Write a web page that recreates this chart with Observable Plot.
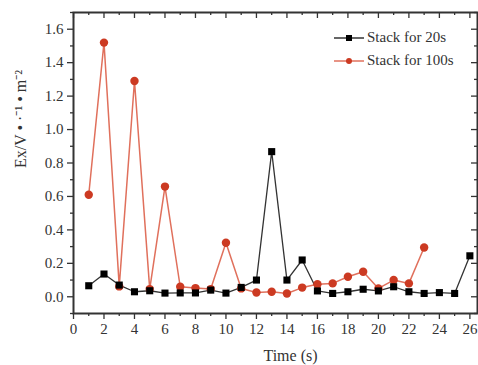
<!DOCTYPE html>
<html>
<head>
<meta charset="utf-8">
<script src="https://cdn.jsdelivr.net/npm/d3@7"></script>
<script src="https://cdn.jsdelivr.net/npm/@observablehq/plot@0.6"></script>
<style>
  html, body { margin: 0; padding: 0; background: #fff; }
  #wrap { position: relative; width: 478px; height: 365px; overflow: hidden; }
  #legend { position: absolute; left: 334px; top: 26px; font-family: "Liberation Serif", serif; font-size: 15px; color: #333; }
  #legend .row { display: flex; align-items: center; height: 23px; }
  #legend svg { margin-right: 2px; }
</style>
</head>
<body>
<div id="wrap"><div id="legend"></div></div>
<script>
const time20 = d3.range(1, 27);
const vals20 = [0.066, 0.136, 0.07, 0.03, 0.036, 0.022, 0.023, 0.023, 0.04, 0.022, 0.056, 0.10, 0.868, 0.10, 0.22, 0.035, 0.02, 0.03, 0.045, 0.035, 0.06, 0.03, 0.02, 0.025, 0.02, 0.245];
const time100 = d3.range(1, 24);
const vals100 = [0.61, 1.52, 0.062, 1.29, 0.046, 0.659, 0.06, 0.052, 0.046, 0.323, 0.05, 0.026, 0.03, 0.02, 0.055, 0.075, 0.08, 0.12, 0.15, 0.05, 0.10, 0.08, 0.295];
const seriesNames = ["Stack for 20s", "Stack for 100s"];
const xMajor = d3.range(0, 27, 2);
const xMinor = d3.range(1, 27, 2);
const yMajor = [0, 0.2, 0.4, 0.6, 0.8, 1.0, 1.2, 1.4, 1.6];
const yMinor = [-0.1, 0.1, 0.3, 0.5, 0.7, 0.9, 1.1, 1.3, 1.5, 1.7];
const xLabel = "Time (s)";
const yLabel = "Ex/V • ·⁻¹ • m⁻²";

const d20 = time20.map((t, i) => ({t, v: vals20[i]}));
const d100 = time100.map((t, i) => ({t, v: vals100[i]}));

const black = "#000";
const blackLine = "#333";
const red = "#cc3a22";
const redLine = "#e0705c";
const axisColor = "#333";
const font = "Liberation Serif";

const W = 478, H = 365, mL = 73, mT = 12, mR = 1, mB = 52;
const fw = W - mL - mR, fh = H - mT - mB;

const chart = Plot.plot({
  width: W,
  height: H,
  marginLeft: mL,
  marginTop: mT,
  marginRight: mR,
  marginBottom: mB,
  style: {fontFamily: font, fontSize: "15px", color: "#333", background: "#fff"},
  x: {domain: [0, 26.5]},
  y: {domain: [-0.1, 1.7]},
  marks: [
    Plot.axisX({ticks: xMajor, tickSize: 6, tickPadding: 4, tickFormat: d => d, label: null, stroke: axisColor, strokeWidth: 1.3, fontSize: 15}),
    Plot.axisX({ticks: xMinor, tickSize: 3, tickFormat: () => "", label: null, stroke: axisColor, strokeWidth: 1.3}),
    Plot.tickX(xMajor, {x: d => d, insetBottom: fh - 6, stroke: axisColor, strokeWidth: 1.3}),
    Plot.tickX(xMinor, {x: d => d, insetBottom: fh - 3, stroke: axisColor, strokeWidth: 1.3}),
    Plot.axisY({ticks: yMajor, tickSize: 6, tickPadding: 4, tickFormat: d3.format(".1f"), label: null, stroke: axisColor, strokeWidth: 1.3, fontSize: 15}),
    Plot.axisY({ticks: yMinor, tickSize: 3, tickFormat: () => "", label: null, stroke: axisColor, strokeWidth: 1.3}),
    Plot.tickY(yMajor, {y: d => d, insetLeft: fw - 6, stroke: axisColor, strokeWidth: 1.3}),
    Plot.tickY(yMinor, {y: d => d, insetLeft: fw - 3, stroke: axisColor, strokeWidth: 1.3}),
    Plot.frame({stroke: axisColor, strokeWidth: 2}),
    Plot.line(d100, {x: "t", y: "v", stroke: redLine, strokeWidth: 1.5}),
    Plot.line(d20, {x: "t", y: "v", stroke: blackLine, strokeWidth: 1.3}),
    Plot.dot(d100, {x: "t", y: "v", fill: red, r: 4.2, symbol: "circle"}),
    Plot.dot(d20, {x: "t", y: "v", fill: black, r: 4, symbol: "square"}),
    Plot.text([xLabel], {frameAnchor: "bottom", dx: 15, dy: 47, fontSize: 16, fill: "#333", text: d => d}),
    Plot.text([yLabel], {frameAnchor: "left", dx: -53, dy: 5, rotate: -90, fontSize: 16, fill: "#333", text: d => d})
  ]
});
document.getElementById("wrap").prepend(chart);

const legend = d3.select("#legend");
const items = [
  {name: seriesNames[0], line: blackLine, fill: black, sym: "square"},
  {name: seriesNames[1], line: redLine, fill: red, sym: "circle"}
];
items.forEach(it => {
  const row = legend.append("div").attr("class", "row");
  const s = row.append("svg").attr("width", 31).attr("height", 12);
  s.append("line").attr("x1", 0).attr("x2", 30).attr("y1", 6).attr("y2", 6).attr("stroke", it.line).attr("stroke-width", 1.5);
  if (it.sym === "square") s.append("rect").attr("x", 12).attr("y", 3).attr("width", 6).attr("height", 6).attr("fill", it.fill);
  else s.append("circle").attr("cx", 15).attr("cy", 6).attr("r", 3).attr("fill", it.fill);
  row.append("span").text(it.name);
});
</script>
</body>
</html>
